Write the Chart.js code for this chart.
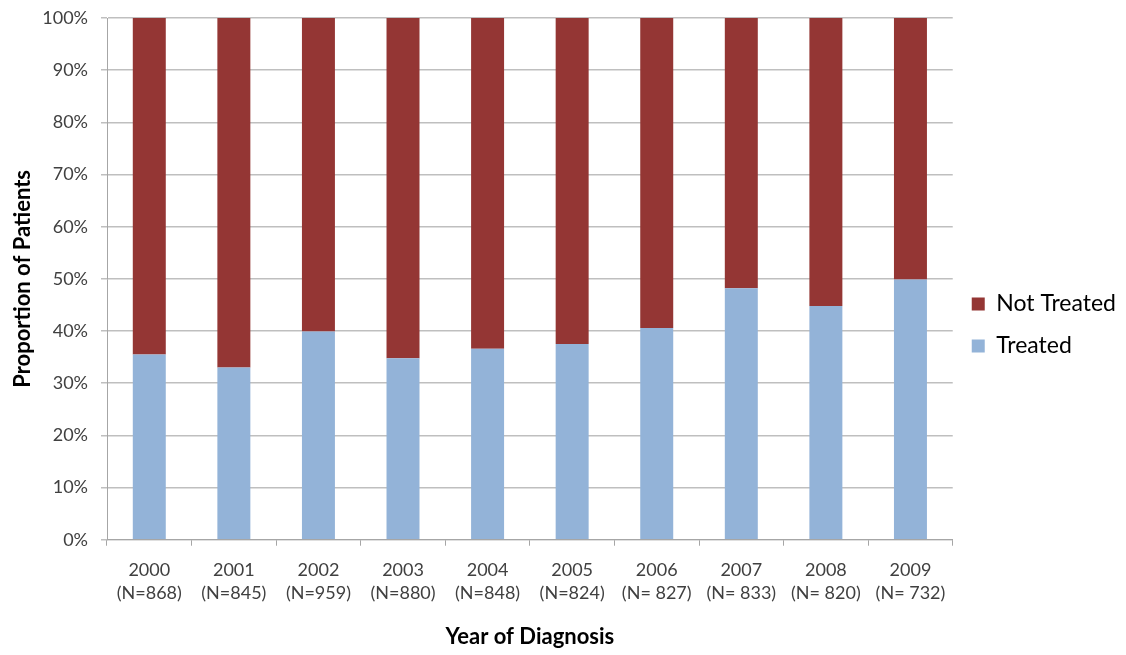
<!DOCTYPE html>
<html>
<head>
<meta charset="utf-8">
<script src="https://cdn.jsdelivr.net/npm/chart.js@4.4.1/dist/chart.umd.min.js"></script>
<style>
  html, body { margin: 0; padding: 0; background: #fff; }
  #wrap { width: 1126px; height: 655px; }
</style>
</head>
<body>
<div id="wrap"><canvas id="treat-chart"></canvas></div>
<script>
var years = ['2000', '2001', '2002', '2003', '2004', '2005', '2006', '2007', '2008', '2009'];
var counts = ['(N=868)', '(N=845)', '(N=959)', '(N=880)', '(N=848)', '(N=824)', '(N= 827)', '(N= 833)', '(N= 820)', '(N= 732)'];
var treated = [35.5, 33.0, 39.9, 34.8, 36.6, 37.5, 40.6, 48.2, 44.8, 49.9];
var notTreated = [64.5, 67.0, 60.1, 65.2, 63.4, 62.5, 59.4, 51.8, 55.2, 50.1];
var yTicks = [0, 10, 20, 30, 40, 50, 60, 70, 80, 90, 100];

var labels = years.map(function(y, i) { return [y, counts[i]]; });
var font = 'Lato, "Open Sans", sans-serif';

var elem = document.getElementById('treat-chart');

var treatChart = new Chart(elem, {
  type: 'bar',
  data: {
    labels: labels,
    datasets: [{
      label: 'Treated',
      data: treated,
      backgroundColor: '#93b3d8',
      categoryPercentage: 1,
      barPercentage: 0.39
    }, {
      label: 'Not Treated',
      data: notTreated,
      backgroundColor: '#943634',
      categoryPercentage: 1,
      barPercentage: 0.39
    }]
  },
  options: {
    responsive: true,
    maintainAspectRatio: false,
    animation: false,
    layout: {
      padding: { top: 0, right: 0, bottom: 5, left: 10 }
    },
    plugins: {
      legend: {
        position: 'right',
        reverse: true,
        labels: {
          boxWidth: 13,
          boxHeight: 13,
          padding: 19,
          color: '#000',
          font: { family: font, size: 23 }
        }
      },
      tooltip: { enabled: false }
    },
    scales: {
      x: {
        stacked: true,
        border: { color: '#a6a6a6' },
        grid: {
          offset: true,
          drawOnChartArea: false,
          color: '#a6a6a6',
          tickLength: 6
        },
        ticks: {
          color: '#404040',
          padding: 12,
          maxRotation: 0,
          font: { family: font, size: 18, lineHeight: 1.33 }
        },
        title: {
          display: true,
          text: 'Year of Diagnosis',
          color: '#000',
          padding: { top: 6, bottom: 0 },
          font: { family: font, size: 22, weight: 'bold' }
        }
      },
      y: {
        stacked: true,
        min: 0,
        max: 100,
        afterBuildTicks: function(axis) {
          axis.ticks = yTicks.map(function(v) { return { value: v }; });
        },
        afterFit: function(axis) {
          axis.width = 97;
          axis.paddingTop = 18;
        },
        border: { color: '#a6a6a6' },
        grid: {
          color: '#bfbfbf',
          lineWidth: 1.5,
          tickLength: 6
        },
        ticks: {
          color: '#404040',
          padding: 13,
          font: { family: font, size: 18 },
          callback: function(value) {
            return value + '%';
          }
        },
        title: {
          display: true,
          text: 'Proportion of Patients',
          color: '#000',
          padding: { top: 0, bottom: 8 },
          font: { family: font, size: 22, weight: 'bold' }
        }
      }
    }
  }
});
</script>
</body>
</html>
